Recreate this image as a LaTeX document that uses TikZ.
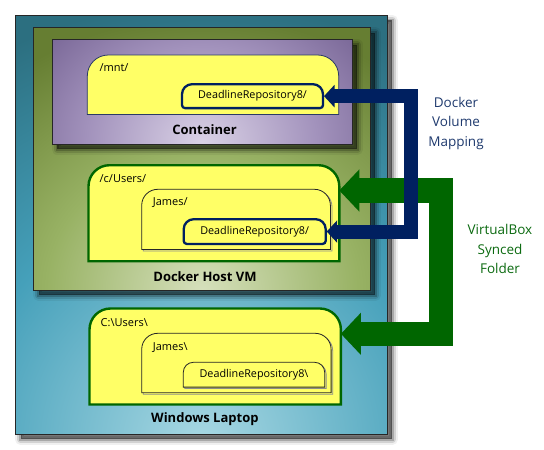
\documentclass[tikz,border=0pt]{standalone}
\usepackage{fontspec}
\setmainfont{Open Sans}
\usetikzlibrary{arrows.meta,calc}
\definecolor{navyA}{HTML}{002060}
\definecolor{greenA}{HTML}{006600}
\definecolor{folderY}{HTML}{FFFF66}
\definecolor{mntBorder}{HTML}{2A3A66}
\definecolor{tealD}{HTML}{2C6F80}
\definecolor{tealM}{HTML}{45A0BA}
\definecolor{tealL}{HTML}{A8D8E3}
\definecolor{oliveD}{HTML}{667E32}
\definecolor{oliveM}{HTML}{98B264}
\definecolor{oliveL}{HTML}{D6E0BC}
\definecolor{purpD}{HTML}{6A5789}
\definecolor{purpM}{HTML}{A292BC}
\definecolor{purpL}{HTML}{DAD2E6}
\definecolor{mapText}{HTML}{1F3A6E}
\definecolor{syncText}{HTML}{0B6A10}
\pgfdeclareradialshading{tealsh}{\pgfpointorigin}{color(0bp)=(tealL); color(12bp)=(tealM); color(22bp)=(tealD); color(50bp)=(tealD)}
\pgfdeclareradialshading{olivesh}{\pgfpointorigin}{color(0bp)=(oliveL); color(12bp)=(oliveM); color(24bp)=(oliveD); color(50bp)=(oliveD)}
\pgfdeclareradialshading{purpsh}{\pgfpointorigin}{color(0bp)=(purpL); color(12bp)=(purpM); color(24bp)=(purpD); color(50bp)=(purpD)}
% folder outline: rounded top corners
\newcommand\fldr[3]{\path[#3] (#1.south west) -- ([yshift=-#2]#1.north west) arc[start angle=180,end angle=90,radius=#2] -- ([xshift=-#2]#1.north east) arc[start angle=90,end angle=0,radius=#2] -- (#1.south east) -- cycle;}
% folder outline with slightly rounded bottom corners
\newcommand\fldrb[4]{\path[#3] ([yshift=#4]#1.south west) -- ([yshift=-#2]#1.north west) arc[start angle=180,end angle=90,radius=#2] -- ([xshift=-#2]#1.north east) arc[start angle=90,end angle=0,radius=#2] -- ([yshift=#4]#1.south east) arc[start angle=0,end angle=-90,radius=#4] -- ([xshift=#4]#1.south west) arc[start angle=270,end angle=180,radius=#4] -- cycle;}
\begin{document}
\begin{tikzpicture}[x=1pt,y=-1pt,
  box/.style={draw=black!85, line width=0.8pt, inner sep=0pt, anchor=north west},
  fbox/.style={inner sep=0pt, anchor=north west},
  lbl/.style={inner sep=0pt, anchor=west, font=\fontsize{11}{13}\selectfont},
  dlbl/.style={inner sep=0pt, font=\fontsize{10.8}{13}\selectfont},
  title/.style={inner sep=0pt, font=\bfseries\fontsize{13}{15}\selectfont},
  side/.style={inner sep=0pt, align=center, font=\fontsize{13.5}{19.3}\selectfont},
  boxshadow/.style={
    preaction={fill=black, opacity=0.5, transform canvas={shift={(5pt,-5pt)}}},
    preaction={draw=black, opacity=0.2, line width=3pt, transform canvas={shift={(5pt,-5pt)}}},
    preaction={draw=black, opacity=0.12, line width=7pt, line join=round, transform canvas={shift={(5pt,-5pt)}}},
    preaction={draw=black, opacity=0.06, line width=11pt, line join=round, transform canvas={shift={(5pt,-5pt)}}}},
  greenarrow/.style={draw=greenA, line width=24.5pt, line join=miter,
    {Triangle[length=20pt,width=41pt]}-{Triangle[length=20pt,width=41pt]}},
  navyarrow/.style={draw=navyA, line width=14pt, line join=miter,
    {Triangle[length=10.5pt,width=22pt]}-{Triangle[length=10.5pt,width=22pt]}}
]
\fill[white] (0,0) rectangle (544,450);
\useasboundingbox (0,0) rectangle (544,450);

% ---- big boxes ----
\node[box, boxshadow, fill=tealD, minimum width=371.4pt, minimum height=419pt,
  path picture={\shade[shading=tealsh] ([yshift=-8pt]path picture bounding box.south) circle (500pt);}]
  (laptop) at (15.3,15) {};
\node[box, boxshadow, fill=oliveD, minimum width=336.7pt, minimum height=262.7pt,
  path picture={\shade[shading=olivesh] (path picture bounding box.south) ellipse [x radius=325pt, y radius=285pt];}]
  (hostvm) at (33.3,27.3) {};
\node[box, boxshadow, fill=purpD, minimum width=300pt, minimum height=104.7pt,
  path picture={\shade[shading=purpsh] ([yshift=2pt]path picture bounding box.south) ellipse [x radius=240pt, y radius=200pt];}]
  (container) at (51.7,39.3) {};

% ---- container folders ----
\node[fbox, minimum width=251pt, minimum height=59pt] (mnt) at (87.3,55) {};
\fldr{mnt}{21pt}{fill=folderY, draw=mntBorder, line width=0.8pt}
\node[lbl] (mntl) at ([shift={(12pt,-13pt)}]mnt.north west) {/mnt/};
\node[fbox, minimum width=140.6pt, minimum height=23.5pt] (dr8c) at (182,84.2) {};
\fldrb{dr8c}{10pt}{fill=folderY, draw=navyA, line width=2.3pt}{3pt}
\node[dlbl] (dr8cl) at (dr8c.center) {DeadlineRepository8/};

% ---- host folders ----
\node[fbox, minimum width=250.4pt, minimum height=95.6pt] (cusers) at (88.5,165.2) {};
\fldr{cusers}{21pt}{fill=folderY, draw=greenA, line width=2.4pt}
\node[lbl] (cusersl) at ([shift={(11pt,-13pt)}]cusers.north west) {/c/Users/};
\node[fbox, minimum width=188.3pt, minimum height=59.7pt] (jamesh) at (141.7,189.3) {};
\begin{scope}[transform canvas={shift={(1.6pt,-1.6pt)}}]
\fldr{jamesh}{16pt}{draw=black!45, line width=0.8pt}
\end{scope}
\fldr{jamesh}{16pt}{fill=folderY, draw=black!85, line width=0.8pt}
\node[lbl] (jameshl) at ([shift={(11pt,-13.4pt)}]jamesh.north west) {James/};
\node[fbox, minimum width=141.6pt, minimum height=24.3pt] (dr8h) at (183.7,219.2) {};
\fldrb{dr8h}{10pt}{fill=folderY, draw=navyA, line width=2.3pt}{3pt}
\node[dlbl] (dr8hl) at (dr8h.center) {DeadlineRepository8/};

% ---- laptop folders ----
\node[fbox, minimum width=251pt, minimum height=95.6pt] (winusers) at (89.5,308.5) {};
\fldr{winusers}{21pt}{fill=folderY, draw=greenA, line width=2.4pt}
\node[lbl] (winusersl) at ([shift={(11pt,-14pt)}]winusers.north west) {C:\textbackslash Users\textbackslash};
\node[fbox, minimum width=189pt, minimum height=59pt] (jamesw) at (141.7,333.3) {};
\begin{scope}[transform canvas={shift={(1.6pt,-1.6pt)}}]
\fldr{jamesw}{16pt}{draw=black!45, line width=0.8pt}
\end{scope}
\fldr{jamesw}{16pt}{fill=folderY, draw=black!85, line width=0.8pt}
\node[lbl] (jameswl) at ([shift={(11pt,-14pt)}]jamesw.north west) {James\textbackslash};
\node[fbox, minimum width=141pt, minimum height=24.4pt] (dr8w) at (183.3,362.3) {};
\begin{scope}[transform canvas={shift={(1.4pt,-1.4pt)}}]
\fldr{dr8w}{10pt}{draw=black!45, line width=0.8pt}
\end{scope}
\fldr{dr8w}{10pt}{fill=folderY, draw=black!85, line width=0.8pt}
\node[dlbl] (dr8wl) at (dr8w.center) {DeadlineRepository8\textbackslash};

% ---- titles ----
\node[title] (contl) at ([shift={(2.5pt,15pt)}]container.south) {Container};
\node[title] (hostl) at ([shift={(3pt,14pt)}]hostvm.south) {Docker Host VM};
\node[title] (lapl) at ([shift={(3.5pt,15.7pt)}]laptop.south) {Windows Laptop};

% ---- connectors ----
\coordinate (gTop) at ([yshift=-25.3pt]cusers.north east);
\coordinate (gBot) at ([yshift=-25.3pt]winusers.north east);
\coordinate (gx) at (440.8,0);
\draw[greenarrow] (gTop) -- (gTop -| gx) -- (gBot -| gx) -- (gBot);
\coordinate (nTop) at (dr8c.east);
\coordinate (nBot) at (dr8h.east);
\coordinate (nx) at (410.5,0);
\draw[navyarrow] ([xshift=1pt]nTop) -- (nTop -| nx) -- (nBot -| nx) -- ([xshift=1pt]nBot);

% ---- connector labels ----
\node[side, text=mapText] (mapl) at (456,123.3) {Docker\\Volume\\Mapping};
\node[side, text=syncText] (syncl) at (500,249) {VirtualBox\\Synced\\Folder};
\end{tikzpicture}
\end{document}
